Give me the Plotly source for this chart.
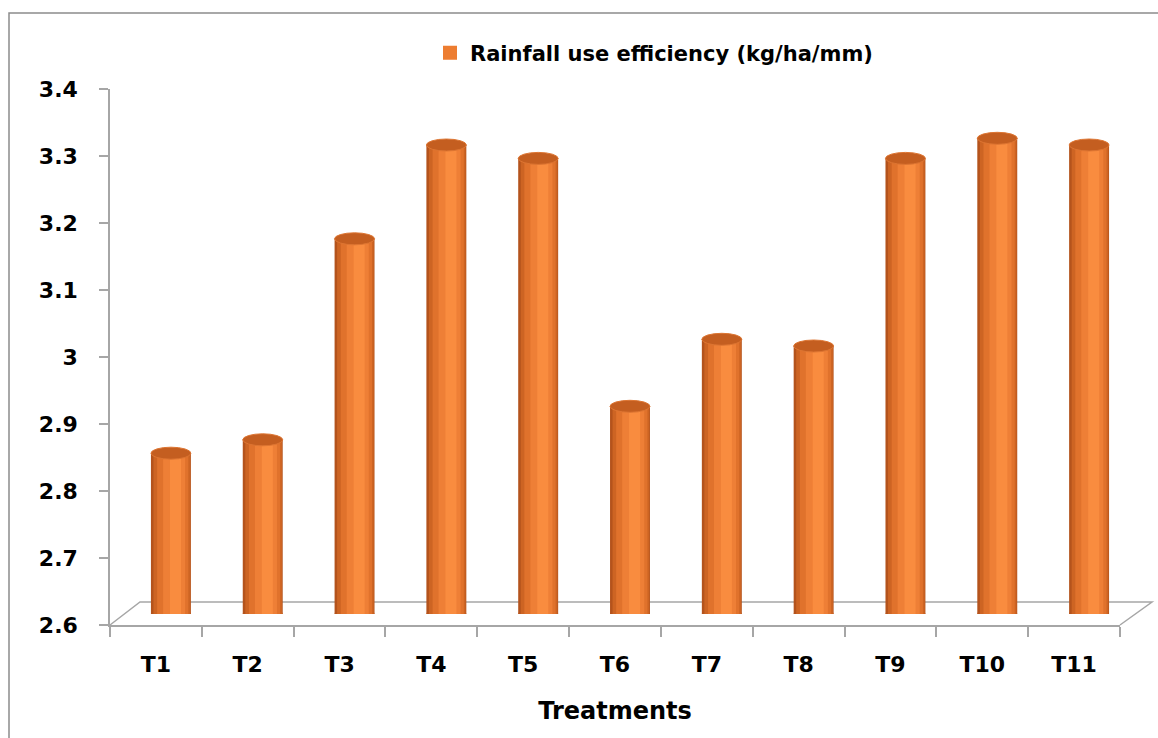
import plotly.graph_objects as go

W, H = 1158, 738

treatments = ["T1", "T2", "T3", "T4", "T5", "T6", "T7", "T8", "T9", "T10", "T11"]
rue = [2.84, 2.86, 3.16, 3.30, 3.28, 2.91, 3.01, 3.00, 3.28, 3.31, 3.30]
y_ticks = [2.6, 2.7, 2.8, 2.9, 3.0, 3.1, 3.2, 3.3, 3.4]
y_tick_text = ["2.6", "2.7", "2.8", "2.9", "3", "3.1", "3.2", "3.3", "3.4"]
series_name = "Rainfall use efficiency (kg/ha/mm)"
BASE = 2.6

def px(x):
    return x / W

def py(y):
    return 1 - y / H

FONT = "'DejaVu Sans', Verdana, sans-serif"
AXIS_GREY = "#a6a6a6"

fig = go.Figure()

# cylinder shading layers: (width, centre shift, colour)
layers = [
    (0.435, 0.0, "#b4531c"),
    (0.40, 0.01, "#cd6423"),
    (0.34, 0.02, "#e0722c"),
    (0.24, 0.035, "#ee7f36"),
    (0.12, 0.05, "#f98c3f"),
]
heights = [v - BASE for v in rue]
for k, (w, s, c) in enumerate(layers):
    fig.add_trace(go.Bar(
        x=treatments, y=heights, base=[BASE] * len(rue),
        width=w, offset=s - w / 2,
        marker=dict(color=c, line=dict(width=0)),
        name=series_name, showlegend=False, hoverinfo="skip",
        xaxis="x2", yaxis="y2",
    ))

# legend entry
fig.add_trace(go.Scatter(
    x=[None], y=[None], name=series_name, mode="markers",
    marker=dict(color="#ed7d31", symbol="square", size=14),
    xaxis="x", yaxis="y", showlegend=True,
))

shapes = []
# frame
shapes.append(dict(type="rect", xref="paper", yref="paper",
                   x0=px(9), y0=py(13), x1=1.05, y1=-0.05,
                   line=dict(color="#8c8c8c", width=1.5), layer="below"))
# floor (depth part)
shapes.append(dict(type="path", xref="paper", yref="paper",
                   path=f"M {px(110)},{py(625)} L {px(140)},{py(602)} L {px(1152)},{py(602)} L {px(1120)},{py(625)}",
                   line=dict(color=AXIS_GREY, width=1.5), layer="below"))

for i, v in enumerate(rue):
    # rounded bottom
    shapes.append(dict(type="circle", xref="x2", yref="y2",
                       xsizemode="pixel", ysizemode="pixel",
                       xanchor=i, yanchor=BASE,
                       x0=-20, x1=20, y0=-6, y1=6,
                       fillcolor="#e0722c", line=dict(width=0), layer="below"))
    # top face
    shapes.append(dict(type="circle", xref="x2", yref="y2",
                       xsizemode="pixel", ysizemode="pixel",
                       xanchor=i, yanchor=v,
                       x0=-20, x1=20, y0=-6, y1=6,
                       fillcolor="#c45e20", line=dict(color="#dd7532", width=1), layer="above"))

fig.update_layout(
    width=W, height=H,
    margin=dict(l=0, r=0, t=0, b=0, autoexpand=False),
    paper_bgcolor="white", plot_bgcolor="rgba(0,0,0,0)",
    barmode="overlay",
    shapes=shapes,
    showlegend=True,
    legend=dict(orientation="h", x=px(654), xanchor="center", y=py(53), yanchor="middle",
                font=dict(family=FONT, size=21, color="black", weight="bold"),
                bgcolor="rgba(0,0,0,0)", itemwidth=30),
    xaxis=dict(domain=[px(110), px(1120)], anchor="y", automargin=False,
               type="category", categoryorder="array", categoryarray=treatments,
               range=[-0.5, 10.5],
               showline=True, linecolor=AXIS_GREY, linewidth=1.5,
               ticks="outside", tickson="boundaries", ticklen=10, tickcolor=AXIS_GREY, tickwidth=1.5,
               tickfont=dict(family=FONT, size=22, color="black", weight="bold"),
               ticklabelstandoff=19,
               showgrid=False, zeroline=False,
               title=dict(text="Treatments", standoff=26,
                          font=dict(family=FONT, size=24, color="black", weight="bold"))),
    yaxis=dict(domain=[py(625), py(89)], anchor="x", automargin=False,
               range=[2.6, 3.4], tickvals=y_ticks, ticktext=y_tick_text,
               showline=True, linecolor=AXIS_GREY, linewidth=1.5,
               ticks="outside", ticklen=9, tickcolor=AXIS_GREY, tickwidth=1.5,
               tickfont=dict(family=FONT, size=22, color="black", weight="bold"),
               ticklabelstandoff=17,
               showgrid=False, zeroline=False),
    xaxis2=dict(domain=[px(125), px(1135)], anchor="y2",
                type="category", categoryorder="array", categoryarray=treatments,
                range=[-0.5, 10.5], visible=False),
    yaxis2=dict(domain=[py(614), py(78)], anchor="x2",
                range=[2.6, 3.4], visible=False),
)

fig.write_html("out.html")
